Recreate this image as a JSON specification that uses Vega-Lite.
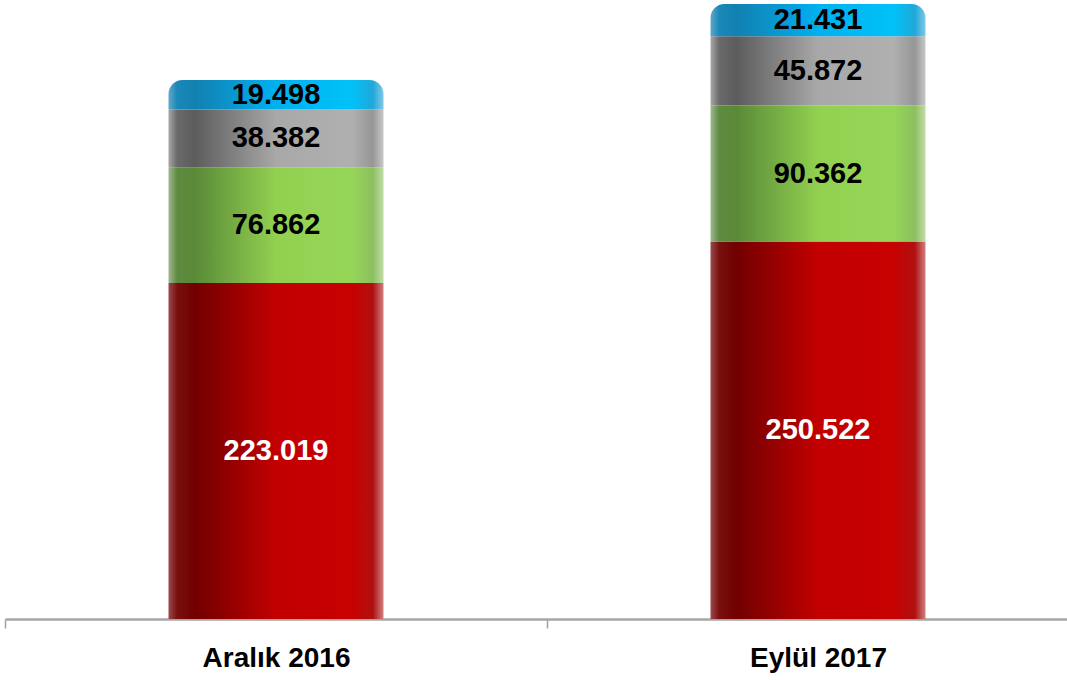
{
  "$schema": "https://vega.github.io/schema/vega-lite/v6.json",
  "autosize": "none",
  "width": 1062,
  "height": 619,
  "padding": {"left": 5, "top": 0, "right": 0, "bottom": 61},
  "background": "white",
  "config": {"view": {"stroke": null}},
  "data": {
    "values": [
      {"period": "Aralık 2016", "series": "s1", "value": 223.019, "label": "223.019"},
      {"period": "Aralık 2016", "series": "s2", "value": 76.862, "label": "76.862"},
      {"period": "Aralık 2016", "series": "s3", "value": 38.382, "label": "38.382"},
      {"period": "Aralık 2016", "series": "s4", "value": 19.498, "label": "19.498"},
      {"period": "Eylül 2017", "series": "s1", "value": 250.522, "label": "250.522"},
      {"period": "Eylül 2017", "series": "s2", "value": 90.362, "label": "90.362"},
      {"period": "Eylül 2017", "series": "s3", "value": 45.872, "label": "45.872"},
      {"period": "Eylül 2017", "series": "s4", "value": 21.431, "label": "21.431"}
    ]
  },
  "transform": [
    {"stack": "value", "groupby": ["period"], "sort": [{"field": "series", "order": "ascending"}], "as": ["v0", "v1"]},
    {"calculate": "(datum.v0 + datum.v1) / 2", "as": "mid"}
  ],
  "encoding": {
    "x": {
      "field": "period",
      "type": "nominal",
      "sort": null,
      "scale": {"range": [0, 1084], "paddingInner": 0, "paddingOuter": 0},
      "axis": {
        "title": null,
        "labelAngle": 0,
        "labelFont": "Liberation Sans",
        "labelFontWeight": "bold",
        "labelFontSize": 28,
        "labelColor": "#000000",
        "labelPadding": 16,
        "tickBand": "extent",
        "tickSize": 9,
        "tickColor": "#a0a0a0",
        "tickWidth": 1.5,
        "domainColor": "#a6a6a6",
        "domainWidth": 2.5,
        "grid": false
      }
    }
  },
  "layer": [
    {
      "transform": [{"filter": "datum.series == 's1'"}],
      "mark": {
        "type": "bar",
        "width": {"band": 0.3967},
        "fill": {
          "gradient": "linear", "x1": 0, "y1": 0, "x2": 1, "y2": 0,
          "stops": [
            {"offset": 0, "color": "#9a4a4a"},
            {"offset": 0.04, "color": "#781010"},
            {"offset": 0.12, "color": "#720000"},
            {"offset": 0.5, "color": "#c20000"},
            {"offset": 0.85, "color": "#c80000"},
            {"offset": 0.95, "color": "#b01010"},
            {"offset": 1, "color": "#d08080"}
          ]
        }
      },
      "encoding": {
        "y": {"field": "v0", "type": "quantitative", "scale": {"domain": [0, 410.9], "nice": false, "zero": true}, "axis": null},
        "y2": {"field": "v1"}
      }
    },
    {
      "transform": [{"filter": "datum.series == 's2'"}],
      "mark": {
        "type": "bar",
        "width": {"band": 0.3967},
        "fill": {
          "gradient": "linear", "x1": 0, "y1": 0, "x2": 1, "y2": 0,
          "stops": [
            {"offset": 0, "color": "#a0b890"},
            {"offset": 0.04, "color": "#5e8a40"},
            {"offset": 0.12, "color": "#5a8a38"},
            {"offset": 0.5, "color": "#92d050"},
            {"offset": 0.85, "color": "#96d656"},
            {"offset": 0.95, "color": "#8cc060"},
            {"offset": 1, "color": "#c0dca8"}
          ]
        }
      },
      "encoding": {
        "y": {"field": "v0", "type": "quantitative"},
        "y2": {"field": "v1"}
      }
    },
    {
      "transform": [{"filter": "datum.series == 's3'"}],
      "mark": {
        "type": "bar",
        "width": {"band": 0.3967},
        "fill": {
          "gradient": "linear", "x1": 0, "y1": 0, "x2": 1, "y2": 0,
          "stops": [
            {"offset": 0, "color": "#a8a8a8"},
            {"offset": 0.04, "color": "#6a6a6a"},
            {"offset": 0.12, "color": "#5c5c5c"},
            {"offset": 0.5, "color": "#a8a8a8"},
            {"offset": 0.85, "color": "#b0b0b0"},
            {"offset": 0.95, "color": "#969696"},
            {"offset": 1, "color": "#c8c8c8"}
          ]
        }
      },
      "encoding": {
        "y": {"field": "v0", "type": "quantitative"},
        "y2": {"field": "v1"}
      }
    },
    {
      "transform": [{"filter": "datum.series == 's4'"}],
      "mark": {
        "type": "bar",
        "width": {"band": 0.3967},
        "cornerRadiusTopLeft": 14,
        "cornerRadiusTopRight": 14,
        "fill": {
          "gradient": "linear", "x1": 0, "y1": 0, "x2": 1, "y2": 0,
          "stops": [
            {"offset": 0, "color": "#60a8c8"},
            {"offset": 0.04, "color": "#1a88b8"},
            {"offset": 0.12, "color": "#1280b0"},
            {"offset": 0.5, "color": "#00b0f0"},
            {"offset": 0.85, "color": "#00c2f8"},
            {"offset": 0.95, "color": "#20a8d8"},
            {"offset": 1, "color": "#80c8e8"}
          ]
        }
      },
      "encoding": {
        "y": {"field": "v0", "type": "quantitative"},
        "y2": {"field": "v1"}
      }
    },
    {
      "transform": [{"filter": "datum.series == 's1'"}],
      "mark": {"type": "text", "font": "Liberation Sans", "fontWeight": "bold", "fontSize": 29, "baseline": "middle", "align": "center", "fill": "#ffffff"},
      "encoding": {
        "y": {"field": "mid", "type": "quantitative"},
        "text": {"field": "label", "type": "nominal"}
      }
    },
    {
      "transform": [{"filter": "datum.series != 's1'"}],
      "mark": {"type": "text", "font": "Liberation Sans", "fontWeight": "bold", "fontSize": 29, "baseline": "middle", "align": "center", "fill": "#000000"},
      "encoding": {
        "y": {"field": "mid", "type": "quantitative"},
        "text": {"field": "label", "type": "nominal"}
      }
    }
  ]
}
